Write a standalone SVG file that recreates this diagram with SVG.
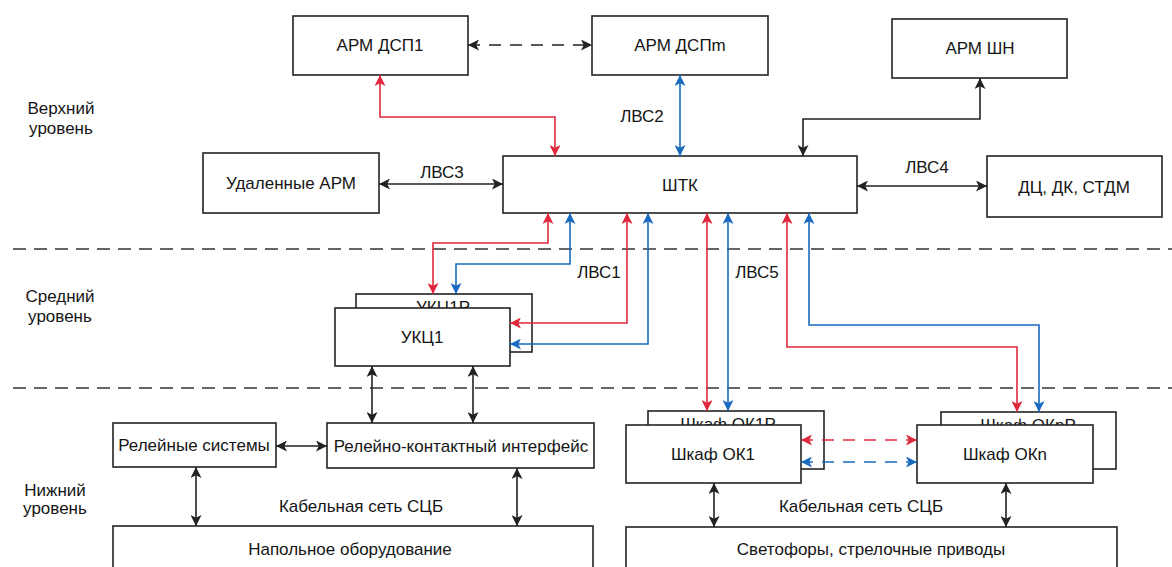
<svg xmlns="http://www.w3.org/2000/svg" width="1172" height="567" viewBox="0 0 1172 567">
<defs>
<style>
.box{fill:#fff;stroke:#222;stroke-width:1.6}
.t{font-family:"Liberation Sans",Arial,sans-serif;font-size:17px;fill:#151515;text-anchor:middle}
.lvl{stroke:#333;stroke-width:1.6;stroke-dasharray:13 8;fill:none}
.k{stroke:#222;stroke-width:1.6;fill:none;marker-start:url(#ak);marker-end:url(#ak)}
.r{stroke:#e0283c;stroke-width:1.6;fill:none;marker-start:url(#ar);marker-end:url(#ar)}
.b{stroke:#1a6bc0;stroke-width:1.6;fill:none;marker-start:url(#ab);marker-end:url(#ab)}
.d{stroke-dasharray:12 9}
</style>
<marker id="ak" viewBox="0 0 10 10" refX="10" refY="5" markerWidth="11" markerHeight="11" markerUnits="userSpaceOnUse" orient="auto-start-reverse"><path d="M0,0 L10,5 L0,10 L2.5,5 Z" fill="#222"/></marker>
<marker id="ar" viewBox="0 0 10 10" refX="10" refY="5" markerWidth="11" markerHeight="11" markerUnits="userSpaceOnUse" orient="auto-start-reverse"><path d="M0,0 L10,5 L0,10 L2.5,5 Z" fill="#e0283c"/></marker>
<marker id="ab" viewBox="0 0 10 10" refX="10" refY="5" markerWidth="11" markerHeight="11" markerUnits="userSpaceOnUse" orient="auto-start-reverse"><path d="M0,0 L10,5 L0,10 L2.5,5 Z" fill="#1a6bc0"/></marker>
</defs>
<rect width="1172" height="567" fill="#fff"/>
<g id="levels">
<line class="lvl" x1="13" y1="249" x2="1172" y2="249"/>
<line class="lvl" x1="13" y1="388" x2="1172" y2="388"/>
<text class="t" x="61" y="114">Верхний</text>
<text class="t" x="61" y="134">уровень</text>
<text class="t" x="60" y="302">Средний</text>
<text class="t" x="60" y="322">уровень</text>
<text class="t" x="55" y="496">Нижний</text>
<text class="t" x="55" y="514">уровень</text>
</g>
<g id="arm-dsp1"><rect class="box" x="293" y="16" width="175" height="59"/><text class="t" x="380" y="51">АРМ ДСП1</text></g>
<g id="arm-dspm"><rect class="box" x="592" y="16" width="176" height="59"/><text class="t" x="680" y="51">АРМ ДСПm</text></g>
<g id="arm-shn"><rect class="box" x="892" y="19" width="175" height="59"/><text class="t" x="980" y="54">АРМ ШН</text></g>
<g id="remote-arm"><rect class="box" x="203" y="153" width="176" height="60"/><text class="t" x="291" y="189">Удаленные АРМ</text></g>
<g id="shtk"><rect class="box" x="503" y="156" width="354" height="57"/><text class="t" x="680" y="191">ШТК</text></g>
<g id="dc"><rect class="box" x="987" y="156" width="175" height="61"/><text class="t" x="1074" y="193">ДЦ, ДК, СТДМ</text></g>
<g id="ukc1r"><rect class="box" x="356" y="294" width="176" height="58"/><text class="t" x="443" y="313">УКЦ1Р</text></g>
<g id="ukc1"><rect class="box" x="335" y="308" width="175" height="58"/><text class="t" x="422" y="343">УКЦ1</text></g>
<g id="relay-sys"><rect class="box" x="113" y="423" width="163" height="44"/><text class="t" x="194" y="451">Релейные системы</text></g>
<g id="rki"><rect class="box" x="327" y="423" width="267" height="45"/><text class="t" x="461" y="452">Релейно-контактный интерфейс</text></g>
<g id="floor"><rect class="box" x="113" y="526" width="480" height="60"/><text class="t" x="350" y="555">Напольное оборудование</text></g>
<g id="ok1r"><rect class="box" x="648" y="411" width="176" height="58"/><text class="t" x="728" y="430">Шкаф ОК1Р</text></g>
<g id="ok1"><rect class="box" x="626" y="425" width="175" height="58"/><text class="t" x="713" y="460">Шкаф ОК1</text></g>
<g id="oknr"><rect class="box" x="941" y="412" width="175" height="57"/><text class="t" x="1028" y="431">Шкаф ОКnР</text></g>
<g id="okn"><rect class="box" x="917" y="425" width="176" height="58"/><text class="t" x="1005" y="460">Шкаф ОКn</text></g>
<g id="signals"><rect class="box" x="626" y="527" width="491" height="60"/><text class="t" x="871" y="555">Светофоры, стрелочные приводы</text></g>
<g id="connectors">
<line class="k d" x1="468" y1="45" x2="592" y2="45"/>
<polyline class="r" points="380,75 380,117 555,117 555,156"/>
<line class="b" x1="680" y1="75" x2="680" y2="156"/>
<polyline class="k" points="980,78 980,119 803,119 803,156"/>
<line class="k" x1="379" y1="184" x2="503" y2="184"/>
<line class="k" x1="857" y1="186" x2="987" y2="186"/>
<polyline class="r" points="548,213 548,243 433,243 433,294"/>
<polyline class="b" points="570,213 570,264 456,264 456,294"/>
<polyline class="r" points="627,213 627,323 510,323"/>
<polyline class="b" points="648,213 648,344 510,344"/>
<line class="r" x1="707" y1="213" x2="707" y2="411"/>
<line class="b" x1="728" y1="213" x2="728" y2="411"/>
<polyline class="r" points="787,213 787,347 1017,347 1017,412"/>
<polyline class="b" points="809,213 809,325 1039,325 1039,412"/>
<line class="k" x1="372" y1="366" x2="372" y2="423"/>
<line class="k" x1="473" y1="366" x2="473" y2="423"/>
<line class="k" x1="276" y1="446" x2="327" y2="446"/>
<line class="k" x1="196" y1="467" x2="196" y2="526"/>
<line class="k" x1="517" y1="468" x2="517" y2="526"/>
<line class="k" x1="714" y1="483" x2="714" y2="527"/>
<line class="k" x1="1006" y1="483" x2="1006" y2="527"/>
<line class="r d" x1="801" y1="440" x2="917" y2="440"/>
<line class="b d" x1="801" y1="462" x2="917" y2="462"/>
<text class="t" x="642" y="122">ЛВС2</text>
<text class="t" x="442" y="178">ЛВС3</text>
<text class="t" x="927" y="173">ЛВС4</text>
<text class="t" x="599" y="278">ЛВС1</text>
<text class="t" x="757" y="278">ЛВС5</text>
<text class="t" x="361" y="512">Кабельная сеть СЦБ</text>
<text class="t" x="861" y="512">Кабельная сеть СЦБ</text>
</g>
</svg>
